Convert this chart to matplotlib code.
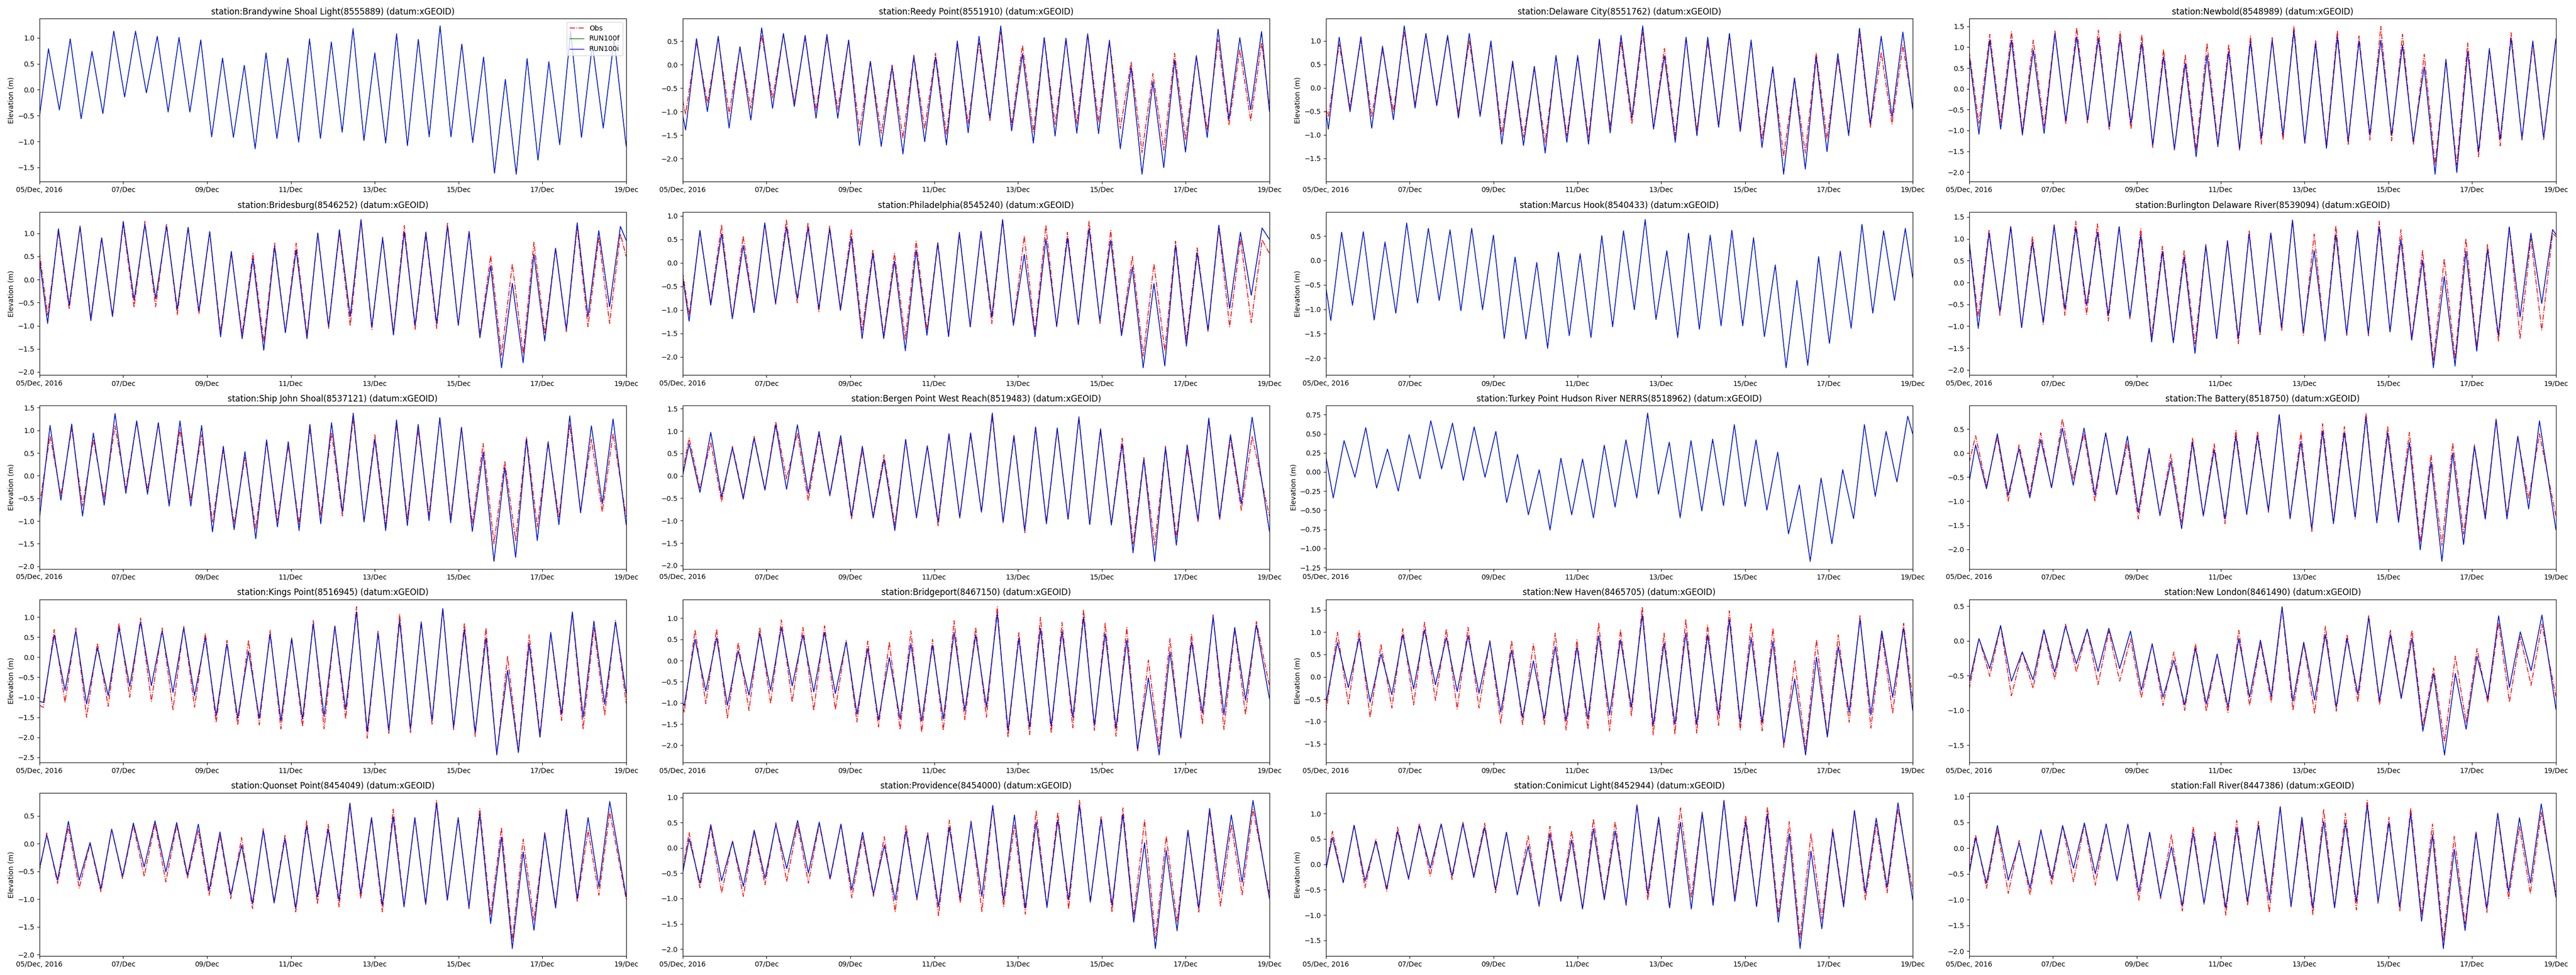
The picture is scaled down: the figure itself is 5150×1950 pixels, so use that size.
import datetime as dt
import numpy as np
import matplotlib
matplotlib.use("Agg")
import matplotlib.pyplot as plt
import matplotlib.dates as mdates

# station names, in panel order (row by row)
stations = [
    "Brandywine Shoal Light(8555889)", "Reedy Point(8551910)", "Delaware City(8551762)", "Newbold(8548989)",
    "Bridesburg(8546252)", "Philadelphia(8545240)", "Marcus Hook(8540433)", "Burlington Delaware River(8539094)",
    "Ship John Shoal(8537121)", "Bergen Point West Reach(8519483)", "Turkey Point Hudson River NERRS(8518962)",
    "The Battery(8518750)", "Kings Point(8516945)", "Bridgeport(8467150)", "New Haven(8465705)",
    "New London(8461490)", "Quonset Point(8454049)", "Providence(8454000)", "Conimicut Light(8452944)",
    "Fall River(8447386)",
]

# hours after 05/Dec 00:00 of the first and last high/low water
first_hour = [5.2, 1.7, 1.4, 5.6, 4.7, 3.7, 2.8, 5.2, 6.1, 3.7, 4.2, 3.7, 2.3, 0.9, 6.6, 5.6, 4.2, 3.7, 3.7, 3.7]
last_hour = [329.1, 331.5, 330.4, 329.0, 332.7, 331.8, 331.8, 334.1, 328.5, 326.1, 333.2, 326.6, 329.9, 328.5,
             330.8, 328.0, 326.6, 326.6, 327.6, 327.6]

# elevations (m): value at 05/Dec, then each high/low water in turn, then value at 19/Dec
brandywine_model = [-0.52, 0.79, -0.39, 0.98, -0.56, 0.74, -0.46, 1.13, -0.14, 1.13, -0.06, 1.03, -0.43, 1.01, -0.43,
                    0.96, -0.91, 0.61, -0.92, 0.47, -1.14, 0.71, -0.94, 0.61, -1.01, 0.98, -0.94, 0.92, -0.82, 1.18,
                    -0.98, 0.71, -1.03, 1.08, -1.08, 0.97, -0.91, 1.23, -0.91, 0.88, -1.02, 0.63, -1.61, 0.20, -1.63,
                    0.60, -1.36, 0.54, -1.06, 1.13, -0.92, 0.87, -0.74, 0.97, -1.09]

reedy_model = [-1.07, -1.39, 0.55, -1.0, 0.60, -1.35, 0.38, -1.18, 0.78, -0.93, 0.66, -0.89, 0.62, -1.14, 0.64, -1.14,
               0.52, -1.72, 0.07, -1.74, -0.05, -1.90, 0.17, -1.64, 0.16, -1.71, 0.50, -1.45, 0.60, -1.14, 0.82, -1.41,
               0.23, -1.67, 0.57, -1.52, 0.56, -1.46, 0.64, -1.47, 0.50, -1.79, -0.06, -2.33, -0.37, -2.19, 0.09,
               -1.86, 0.19, -1.55, 0.75, -1.16, 0.57, -0.96, 0.70, -1.0]
reedy_obs = [-0.76, -1.05, 0.48, -0.82, 0.55, -1.04, 0.36, -0.93, 0.62, -0.72, 0.64, -0.80, 0.57, -0.97, 0.56, -0.95,
             0.51, -1.41, 0.06, -1.46, -0.01, -1.57, 0.20, -1.37, 0.24, -1.49, 0.44, -1.25, 0.46, -1.19, 0.69, -1.28,
             0.41, -1.43, 0.57, -1.27, 0.52, -1.25, 0.66, -1.22, 0.52, -1.36, 0.06, -1.87, -0.19, -1.82, 0.24, -1.59,
             0.18, -1.39, 0.53, -1.28, 0.32, -1.19, 0.46, -0.86]

delaware_model = [-0.5, -0.88, 1.08, -0.51, 1.09, -0.86, 0.89, -0.68, 1.32, -0.43, 1.16, -0.38, 1.12, -0.64, 1.16,
                  -0.61, 1.0, -1.2, 0.57, -1.23, 0.46, -1.39, 0.69, -1.16, 0.69, -1.2, 1.04, -0.96, 1.12, -0.64, 1.32,
                  -0.88, 0.68, -1.16, 1.08, -1.02, 1.08, -0.84, 1.16, -0.93, 1.02, -1.27, 0.45, -1.84, 0.21, -1.73,
                  0.66, -1.36, 0.73, -1.02, 1.27, -0.77, 1.1, -0.62, 1.19, -0.45]
delaware_obs = [-0.45, -0.62, 0.93, -0.41, 1.02, -0.62, 0.82, -0.5, 1.2, -0.34, 1.14, -0.34, 1.1, -0.55, 1.0, -0.55,
                0.95, -0.98, 0.52, -1.05, 0.41, -1.16, 0.66, -1.02, 0.64, -1.05, 0.98, -0.84, 0.98, -0.77, 1.18, -0.84,
                0.84, -1.02, 1.04, -0.91, 0.98, -0.77, 1.11, -0.84, 1.0, -1.09, 0.43, -1.46, 0.21, -1.39, 0.75, -1.09,
                0.62, -0.95, 1.14, -0.84, 0.75, -0.77, 0.91, -0.4]

newbold_model = [0.8, -1.09, 1.17, -0.97, 1.17, -1.11, 0.93, -1.07, 1.33, -0.77, 1.25, -0.75, 1.21, -0.91, 1.21, -0.83,
                 1.11, -1.35, 0.77, -1.45, 0.61, -1.63, 0.81, -1.39, 0.89, -1.43, 1.13, -1.19, 1.17, -1.11, 1.39,
                 -1.29, 1.09, -1.43, 1.25, -1.25, 1.15, -1.11, 1.17, -1.11, 1.05, -1.27, 0.53, -2.05, 0.71, -2.01,
                 0.89, -1.51, 0.97, -1.21, 1.21, -1.19, 1.15, -1.17, 1.2]
newbold_obs = [0.9, -0.83, 1.31, -0.81, 1.37, -1.01, 1.17, -0.89, 1.39, -0.85, 1.47, -0.83, 1.41, -0.99, 1.37, -0.97,
               1.3, -1.41, 0.95, -1.47, 0.81, -1.47, 1.09, -1.31, 1.06, -1.49, 1.27, -1.33, 1.23, -1.23, 1.51, -1.31,
               1.17, -1.35, 1.4, -1.35, 1.27, -1.23, 1.5, -1.25, 1.31, -1.35, 0.83, -1.81, 0.66, -1.83, 1.1, -1.63,
               0.94, -1.37, 1.35, -1.23, 1.07, -1.22, 1.2]

bridesburg_model = [0.45, -0.95, 1.1, -0.55, 1.15, -0.89, 0.9, -0.8, 1.26, -0.44, 1.19, -0.41, 1.15, -0.64, 1.13, -0.68,
                    1.04, -1.24, 0.61, -1.28, 0.45, -1.53, 0.72, -1.15, 0.64, -1.28, 1.01, -1.02, 1.08, -0.8, 1.3,
                    -1.02, 0.9, -1.2, 1.03, -0.99, 1.03, -0.95, 1.15, -0.99, 1.03, -1.26, 0.3, -1.91, -0.08, -1.8,
                    0.55, -1.33, 0.68, -1.08, 1.23, -0.8, 1.06, -0.59, 1.15, 0.85]
bridesburg_obs = [0.6, -0.77, 1.04, -0.64, 1.16, -0.84, 0.92, -0.77, 1.19, -0.6, 1.26, -0.59, 1.21, -0.76, 1.13, -0.75,
                  1.03, -1.13, 0.55, -1.17, 0.57, -1.35, 0.79, -1.13, 0.79, -1.2, 0.99, -1.06, 1.01, -1.0, 1.26, -1.08,
                  0.92, -1.13, 1.17, -1.08, 0.97, -1.06, 1.22, -0.99, 1.06, -1.2, 0.52, -1.64, 0.34, -1.6, 0.81,
                  -1.17, 0.68, -1.13, 1.13, -1.02, 0.91, -0.95, 0.99, 0.5]

philadelphia_model = [-0.3, -1.24, 0.69, -0.9, 0.62, -1.19, 0.37, -1.06, 0.85, -0.85, 0.76, -0.76, 0.74, -0.97, 0.72,
                      -1.01, 0.55, -1.61, 0.19, -1.61, 0.04, -1.87, 0.27, -1.54, 0.41, -1.57, 0.64, -1.36, 0.67, -1.15,
                      0.92, -1.33, 0.18, -1.57, 0.51, -1.34, 0.53, -1.31, 0.72, -1.24, 0.48, -1.55, -0.09, -2.23,
                      -0.44, -2.19, 0.37, -1.77, 0.21, -1.43, 0.8, -0.97, 0.65, -0.69, 0.74, 0.5]
philadelphia_obs = [-0.2, -1.11, 0.64, -0.83, 0.8, -1.17, 0.57, -1.02, 0.81, -0.88, 0.91, -0.85, 0.85, -1.04, 0.78,
                    -0.97, 0.71, -1.43, 0.28, -1.54, 0.2, -1.63, 0.46, -1.43, 0.44, -1.54, 0.65, -1.36, 0.64, -1.29,
                    0.9, -1.31, 0.57, -1.47, 0.8, -1.36, 0.65, -1.31, 0.88, -1.29, 0.69, -1.47, 0.14, -1.98, -0.02,
                    -1.87, 0.46, -1.64, 0.32, -1.47, 0.74, -1.36, 0.51, -1.27, 0.49, 0.2]

marcus_model = [-0.55, -1.23, 0.58, -0.92, 0.59, -1.22, 0.38, -1.08, 0.77, -0.87, 0.66, -0.82, 0.63, -1.03, 0.66, -1.01,
                0.52, -1.6, 0.07, -1.61, -0.04, -1.8, 0.17, -1.54, 0.14, -1.58, 0.51, -1.36, 0.61, -1.01, 0.84, -1.21,
                0.2, -1.58, 0.56, -1.41, 0.52, -1.34, 0.62, -1.34, 0.47, -1.56, -0.09, -2.2, -0.41, -2.15, 0.08, -1.7,
                0.19, -1.39, 0.74, -1.08, 0.61, -0.82, 0.66, -0.35]

burlington_model = [0.95, -1.05, 1.13, -0.67, 1.27, -1.03, 0.92, -0.9, 1.3, -0.6, 1.25, -0.52, 1.15, -0.75, 1.27, -0.79,
                    1.08, -1.36, 0.71, -1.38, 0.58, -1.62, 0.85, -1.28, 0.94, -1.28, 1.11, -1.13, 1.13, -1.02, 1.42,
                    -1.13, 0.73, -1.32, 1.1, -1.17, 1.15, -1.17, 1.27, -1.13, 0.98, -1.32, 0.51, -1.95, 0.14, -1.91,
                    0.71, -1.57, 0.75, -1.21, 1.27, -0.79, 1.13, -0.48, 1.21, 1.1]
burlington_obs = [0.95, -0.79, 1.21, -0.75, 1.3, -1.03, 1.06, -0.96, 1.32, -0.75, 1.4, -0.73, 1.34, -0.88, 1.29, -0.83,
                  1.23, -1.24, 0.83, -1.34, 0.73, -1.4, 0.87, -1.28, 0.96, -1.4, 1.19, -1.21, 1.15, -1.11, 1.44, -1.21,
                  1.11, -1.34, 1.3, -1.21, 1.19, -1.22, 1.4, -1.13, 1.21, -1.26, 0.73, -1.78, 0.54, -1.74, 1.0, -1.47,
                  0.87, -1.34, 1.25, -1.28, 1.0, -1.09, 1.13, 1.05]

shipjohn_model = [-0.95, 1.11, -0.54, 1.14, -0.89, 0.94, -0.65, 1.37, -0.39, 1.21, -0.41, 1.17, -0.67, 1.21, -0.67, 1.11,
                  -1.24, 0.65, -1.19, 0.53, -1.39, 0.79, -1.13, 0.75, -1.21, 1.13, -1.06, 1.17, -0.8, 1.38, -1.02, 0.8,
                  -1.21, 1.23, -1.1, 1.13, -0.99, 1.28, -1.04, 1.07, -1.23, 0.51, -1.89, 0.18, -1.8, 0.8, -1.43, 0.75,
                  -1.08, 1.32, -0.82, 1.1, -0.62, 1.25, -1.08]
shipjohn_obs = [-0.65, 0.88, -0.43, 1.04, -0.67, 0.8, -0.51, 1.1, -0.28, 1.19, -0.32, 1.14, -0.6, 1.01, -0.54, 0.9,
                -1.02, 0.56, -1.06, 0.4, -1.17, 0.73, -0.99, 0.66, -1.06, 1.04, -0.87, 0.95, -0.89, 1.27, -0.99, 0.9,
                -1.08, 1.14, -0.95, 1.01, -0.87, 1.27, -0.95, 1.03, -1.06, 0.71, -1.5, 0.32, -1.43, 0.86, -1.13, 0.71,
                -0.91, 1.12, -0.76, 0.8, -0.8, 0.93, -0.9]

bergen_model = [0.0, 0.71, -0.37, 0.97, -0.47, 0.62, -0.52, 0.84, -0.32, 1.14, -0.3, 1.14, -0.39, 0.99, -0.43, 0.9,
                -0.9, 0.66, -0.94, 0.37, -1.22, 0.81, -0.92, 0.67, -1.03, 0.94, -0.94, 0.96, -0.81, 1.4, -1.03, 0.88,
                -1.22, 1.09, -1.07, 1.07, -0.97, 1.31, -1.09, 1.05, -1.1, 0.71, -1.72, 0.37, -1.91, 0.62, -1.55, 0.69,
                -0.99, 1.29, -0.94, 0.92, -0.62, 1.31, -1.24]
bergen_obs = [0.1, 0.84, -0.28, 0.75, -0.58, 0.66, -0.47, 0.88, -0.3, 1.21, -0.07, 0.96, -0.56, 0.92, -0.45, 0.81,
              -0.97, 0.58, -0.88, 0.47, -1.1, 0.81, -0.94, 0.67, -1.12, 0.92, -0.92, 0.92, -0.82, 1.33, -1.05, 0.92,
              -1.27, 1.07, -1.03, 1.03, -0.96, 1.32, -1.07, 1.01, -1.07, 0.84, -1.52, 0.41, -1.55, 0.66, -1.37, 0.58,
              -1.03, 1.24, -0.99, 0.84, -0.77, 0.88, -0.9]

turkey_model = [0.2, -0.34, 0.41, -0.07, 0.58, -0.21, 0.3, -0.25, 0.49, -0.09, 0.67, 0.04, 0.64, -0.11, 0.59, -0.07,
                0.53, -0.4, 0.23, -0.56, 0.03, -0.76, 0.18, -0.56, 0.17, -0.6, 0.35, -0.46, 0.42, -0.34, 0.77, -0.29,
                0.39, -0.6, 0.41, -0.51, 0.43, -0.44, 0.62, -0.45, 0.42, -0.5, 0.26, -0.81, -0.17, -1.17, -0.08, -0.94,
                0.03, -0.61, 0.62, -0.32, 0.53, -0.13, 0.73, 0.5]

battery_model = [-0.6, 0.17, -0.74, 0.4, -0.88, 0.09, -0.93, 0.28, -0.71, 0.52, -0.67, 0.52, -0.87, 0.42, -0.85, 0.35,
                 -1.23, 0.1, -1.3, -0.17, -1.57, 0.22, -1.31, 0.07, -1.37, 0.35, -1.26, 0.35, -1.19, 0.8, -1.35, 0.24,
                 -1.57, 0.45, -1.47, 0.43, -1.33, 0.74, -1.45, 0.42, -1.44, 0.22, -2.01, -0.19, -2.25, 0.0, -1.9, 0.14,
                 -1.37, 0.69, -1.37, 0.35, -1.16, 0.67, -1.59]
battery_obs = [-0.2, 0.36, -0.69, 0.33, -1.0, 0.17, -0.85, 0.42, -0.74, 0.71, -0.54, 0.4, -1.0, 0.42, -0.88, 0.21,
               -1.37, 0.05, -1.28, -0.02, -1.44, 0.31, -1.3, 0.19, -1.47, 0.47, -1.28, 0.45, -1.23, 0.78, -1.37, 0.42,
               -1.63, 0.61, -1.42, 0.55, -1.37, 0.83, -1.42, 0.55, -1.37, 0.43, -1.85, -0.03, -1.92, 0.21, -1.68,
               0.17, -1.3, 0.71, -1.3, 0.33, -0.95, 0.4, -1.3]

kings_model = [-1.1, -1.13, 0.55, -0.83, 0.65, -1.17, 0.23, -0.96, 0.73, -0.73, 0.88, -0.71, 0.65, -0.88, 0.73, -0.96,
               0.48, -1.46, 0.33, -1.52, 0.15, -1.52, 0.58, -1.58, 0.46, -1.54, 0.83, -1.48, 0.77, -1.31, 1.13, -1.85,
               0.6, -1.83, 0.92, -1.79, 0.88, -1.58, 1.21, -1.75, 0.69, -1.88, 0.48, -2.42, -0.33, -2.38, 0.33, -2.0,
               0.62, -1.42, 1.13, -1.5, 0.9, -1.17, 0.88, -0.9]
kings_obs = [-1.2, -1.25, 0.69, -1.13, 0.73, -1.5, 0.35, -1.23, 0.85, -1.0, 0.98, -1.1, 0.73, -1.31, 0.77, -1.25, 0.6,
             -1.63, 0.42, -1.69, 0.42, -1.69, 0.67, -1.79, 0.5, -1.73, 0.92, -1.79, 0.78, -1.54, 1.26, -2.02, 0.65,
             -1.9, 1.08, -1.88, 0.88, -1.67, 1.23, -1.81, 0.85, -1.98, 0.73, -2.44, 0.02, -2.33, 0.56, -1.92, 0.6,
             -1.58, 1.1, -1.79, 0.73, -1.44, 0.92, -1.15]

bridgeport_model = [-1.0, -1.06, 0.5, -0.72, 0.54, -1.06, 0.23, -0.82, 0.64, -0.7, 0.78, -0.6, 0.6, -0.74, 0.66, -0.78,
                    0.44, -1.26, 0.28, -1.4, 0.07, -1.38, 0.4, -1.43, 0.36, -1.38, 0.66, -1.18, 0.6, -1.1, 1.11, -1.65,
                    0.52, -1.57, 0.76, -1.55, 0.68, -1.34, 1.02, -1.53, 0.63, -1.59, 0.48, -2.09, -0.41, -2.23, 0.21,
                    -1.81, 0.44, -1.24, 1.03, -1.28, 0.78, -0.94, 0.84, -0.9]
bridgeport_obs = [-1.1, -1.22, 0.72, -1.02, 0.74, -1.36, 0.42, -1.18, 0.78, -1.02, 0.96, -0.98, 0.78, -1.18, 0.82,
                  -1.16, 0.48, -1.45, 0.46, -1.57, 0.44, -1.63, 0.7, -1.69, 0.5, -1.65, 0.94, -1.4, 0.78, -1.34, 1.27,
                  -1.81, 0.66, -1.75, 1.02, -1.71, 0.9, -1.59, 1.2, -1.65, 0.88, -1.79, 0.78, -2.15, 0.01, -2.03, 0.52,
                  -1.85, 0.62, -1.49, 1.08, -1.63, 0.74, -1.28, 0.92, -0.6]

newhaven_model = [-0.6, 0.77, -0.24, 0.87, -0.57, 0.51, -0.4, 0.94, -0.27, 1.05, -0.18, 0.88, -0.33, 0.92, -0.37, 0.79,
                  -0.79, 0.6, -0.91, 0.36, -0.93, 0.68, -0.98, 0.67, -0.94, 0.92, -0.85, 0.83, -0.68, 1.39, -1.09, 0.75,
                  -1.06, 0.98, -1.06, 0.94, -0.85, 1.28, -1.02, 0.88, -1.02, 0.79, -1.5, -0.05, -1.75, 0.44, -1.35,
                  0.68, -0.79, 1.29, -0.85, 1.03, -0.46, 1.09, -0.75]
newhaven_obs = [-0.8, 1.0, -0.61, 1.03, -0.91, 0.72, -0.7, 1.08, -0.63, 1.22, -0.53, 1.07, -0.72, 1.11, -0.7, 0.81,
                -1.04, 0.81, -1.07, 0.74, -1.07, 0.98, -1.19, 0.83, -1.17, 1.2, -1.21, 1.05, -0.87, 1.57, -1.3, 0.98,
                -1.28, 1.28, -1.26, 1.16, -1.09, 1.48, -1.19, 1.2, -1.21, 1.09, -1.58, 0.36, -1.62, 0.83, -1.32, 0.94,
                -1.02, 1.37, -1.15, 0.96, -0.81, 1.2, -0.5]

newlondon_model = [-0.6, 0.03, -0.4, 0.22, -0.58, -0.16, -0.56, 0.16, -0.45, 0.21, -0.33, 0.17, -0.44, 0.18, -0.4, 0.14,
                   -0.71, -0.05, -0.81, -0.28, -0.92, -0.11, -0.91, -0.19, -0.95, 0.03, -0.81, 0.01, -0.8, 0.49, -0.87,
                   -0.02, -0.85, 0.09, -0.95, 0.03, -0.77, 0.33, -0.86, 0.09, -0.83, 0.04, -1.3, -0.47, -1.64, -0.47,
                   -1.27, -0.22, -0.83, 0.36, -0.67, 0.13, -0.43, 0.37, -0.98]
newlondon_obs = [-0.7, 0.04, -0.51, 0.21, -0.79, -0.16, -0.68, 0.14, -0.55, 0.24, -0.45, 0.17, -0.63, 0.14, -0.58, 0.03,
                 -0.82, -0.04, -0.93, -0.16, -1.0, -0.04, -1.01, -0.2, -1.03, 0.15, -0.93, -0.03, -0.88, 0.46, -1.0,
                 -0.04, -1.04, 0.21, -1.01, 0.09, -0.88, 0.37, -0.92, 0.15, -0.81, 0.15, -1.22, -0.39, -1.45, -0.22,
                 -1.17, -0.11, -0.89, 0.26, -0.88, 0.06, -0.64, 0.24, -0.8]

quonset_model = [-0.45, 0.15, -0.66, 0.4, -0.66, 0.02, -0.81, 0.26, -0.59, 0.37, -0.42, 0.41, -0.51, 0.38, -0.57, 0.35,
                 -0.84, 0.21, -0.92, -0.03, -1.08, 0.23, -1.07, 0.09, -1.16, 0.32, -0.96, 0.26, -1.02, 0.73, -0.9, 0.47,
                 -1.11, 0.48, -1.14, 0.47, -1.08, 0.72, -1.02, 0.47, -1.14, 0.53, -1.44, 0.12, -1.89, -0.15, -1.56,
                 0.18, -1.16, 0.62, -0.99, 0.47, -0.78, 0.76, -0.95]
quonset_obs = [-0.5, 0.19, -0.72, 0.3, -0.8, 0.0, -0.87, 0.26, -0.63, 0.33, -0.59, 0.36, -0.69, 0.33, -0.62, 0.24,
               -0.93, 0.15, -0.99, 0.11, -1.17, 0.27, -1.04, 0.15, -1.23, 0.41, -1.08, 0.35, -1.14, 0.69, -0.99, 0.45,
               -1.23, 0.62, -1.11, 0.45, -1.11, 0.78, -0.99, 0.45, -1.17, 0.63, -1.29, 0.29, -1.74, 0.08, -1.38, 0.2,
               -1.11, 0.56, -1.05, 0.24, -0.93, 0.57, -1.0]

providence_model = [-0.5, 0.18, -0.7, 0.46, -0.65, 0.12, -0.76, 0.35, -0.6, 0.46, -0.41, 0.54, -0.5, 0.51, -0.6, 0.47,
                    -0.83, 0.31, -0.91, 0.05, -1.03, 0.33, -0.99, 0.26, -1.16, 0.41, -0.99, 0.5, -0.96, 0.84, -1.03,
                    0.65, -1.19, 0.51, -1.18, 0.55, -1.03, 0.84, -1.06, 0.56, -1.13, 0.66, -1.47, 0.1, -1.99, -0.05,
                    -1.64, 0.35, -1.19, 0.78, -0.86, 0.65, -0.68, 0.94, -1.0]
providence_obs = [-0.4, 0.3, -0.79, 0.4, -0.89, 0.15, -0.96, 0.33, -0.73, 0.5, -0.66, 0.46, -0.7, 0.48, -0.63, 0.46,
                  -0.99, 0.22, -0.96, 0.22, -1.26, 0.45, -1.03, 0.31, -1.34, 0.55, -1.09, 0.53, -1.26, 0.81, -1.16,
                  0.45, -1.31, 0.73, -1.16, 0.7, -1.21, 0.94, -1.09, 0.63, -1.26, 0.79, -1.36, 0.55, -1.79, 0.23,
                  -1.46, 0.33, -1.27, 0.73, -1.16, 0.46, -0.93, 0.76, -0.9]

conimicut_model = [-0.1, 0.53, -0.36, 0.77, -0.33, 0.45, -0.48, 0.65, -0.28, 0.76, -0.08, 0.79, -0.23, 0.8, -0.26, 0.73,
                   -0.5, 0.63, -0.6, 0.36, -0.81, 0.6, -0.73, 0.48, -0.88, 0.7, -0.7, 0.66, -0.79, 1.16, -0.58, 0.93,
                   -0.86, 0.83, -0.88, 1.01, -0.81, 1.24, -0.73, 0.84, -0.83, 0.99, -1.14, 0.6, -1.66, 0.26, -1.27,
                   0.65, -0.84, 1.06, -0.56, 0.91, -0.45, 1.21, -0.7]
conimicut_obs = [-0.1, 0.65, -0.36, 0.77, -0.46, 0.5, -0.53, 0.73, -0.3, 0.81, -0.23, 0.81, -0.3, 0.83, -0.22, 0.81,
                 -0.56, 0.63, -0.6, 0.56, -0.83, 0.75, -0.7, 0.66, -0.89, 0.89, -0.66, 0.84, -0.81, 1.18, -0.71, 0.88,
                 -0.86, 1.11, -0.66, 1.03, -0.76, 1.26, -0.66, 0.96, -0.83, 1.13, -0.98, 0.84, -1.46, 0.6, -1.08, 0.7,
                 -0.76, 1.04, -0.7, 0.79, -0.56, 1.09, -0.5]

fallriver_model = [-0.5, 0.2, -0.68, 0.44, -0.62, 0.1, -0.78, 0.34, -0.59, 0.44, -0.39, 0.49, -0.5, 0.47, -0.62, 0.47,
                   -0.85, 0.31, -0.94, 0.03, -1.12, 0.29, -1.07, 0.23, -1.16, 0.39, -1.03, 0.44, -1.01, 0.8, -1.12, 0.6,
                   -1.16, 0.52, -1.16, 0.49, -1.04, 0.83, -1.04, 0.5, -1.14, 0.67, -1.42, 0.26, -1.95, -0.02, -1.6,
                   0.29, -1.17, 0.68, -0.85, 0.59, -0.68, 0.86, -0.95]
fallriver_obs = [-0.4, 0.26, -0.78, 0.37, -0.88, 0.15, -0.91, 0.36, -0.7, 0.42, -0.65, 0.47, -0.72, 0.47, -0.64, 0.46,
                 -1.01, 0.29, -0.98, 0.26, -1.22, 0.42, -1.09, 0.31, -1.3, 0.54, -1.11, 0.52, -1.25, 0.81, -1.14, 0.5,
                 -1.29, 0.75, -1.14, 0.68, -1.2, 0.93, -1.07, 0.6, -1.22, 0.78, -1.3, 0.47, -1.79, 0.23, -1.47, 0.33,
                 -1.25, 0.64, -0.98, 0.42, -0.88, 0.7, -0.85]

model_series = [brandywine_model, reedy_model, delaware_model, newbold_model, bridesburg_model, philadelphia_model,
                marcus_model, burlington_model, shipjohn_model, bergen_model, turkey_model, battery_model,
                kings_model, bridgeport_model, newhaven_model, newlondon_model, quonset_model, providence_model,
                conimicut_model, fallriver_model]
obs_series = [None, reedy_obs, delaware_obs, newbold_obs, bridesburg_obs, philadelphia_obs, None, burlington_obs,
              shipjohn_obs, bergen_obs, None, battery_obs, kings_obs, bridgeport_obs, newhaven_obs, newlondon_obs,
              quonset_obs, providence_obs, conimicut_obs, fallriver_obs]

start = dt.datetime(2016, 12, 5)
end = dt.datetime(2016, 12, 19)
t_start = mdates.date2num(start)
t_end = mdates.date2num(end)
tick_days = [start + dt.timedelta(days=d) for d in range(0, 15, 2)]


def series_times(values, h0, h1):
    # first and last entries sit on the axis ends, the rest are the high/low waters
    inner = np.linspace(h0, h1, len(values) - 2) / 24.0 + t_start
    return np.concatenate([[t_start], inner, [t_end]])


fig, axes = plt.subplots(5, 4, figsize=(51.5, 19.5), dpi=100)
fig.subplots_adjust(left=0.0153, right=0.9922, top=0.981, bottom=0.0195, wspace=0.0963, hspace=0.187)

for i, ax in enumerate(axes.flat):
    mod = model_series[i]
    obs = obs_series[i]
    tm = series_times(mod, first_hour[i], last_hour[i])
    if obs is not None:
        to = series_times(obs, first_hour[i], last_hour[i])
        ax.plot(to, obs, color='r', linestyle='-.', lw=1.2, label='Obs')
    else:
        ax.plot([], [], color='r', linestyle='-.', lw=1.2, label='Obs')
    ax.plot(tm, mod, color='g', lw=1, label='RUN100f')
    ax.plot(tm, mod, color='b', lw=1, label='RUN100i')

    ax.set_title('station:%s (datum:xGEOID)' % stations[i], fontsize=12)
    ax.set_xlim(t_start, t_end)
    ax.set_xticks([mdates.date2num(d) for d in tick_days])
    ax.set_xticklabels([d.strftime('%d/%b, %Y') if k == 0 else d.strftime('%d/%b')
                        for k, d in enumerate(tick_days)])
    if i % 2 == 0:
        ax.set_ylabel('Elevation (m)')
    if i == 0:
        ax.legend(loc='upper right')

fig.savefig('out.png', dpi=100)
